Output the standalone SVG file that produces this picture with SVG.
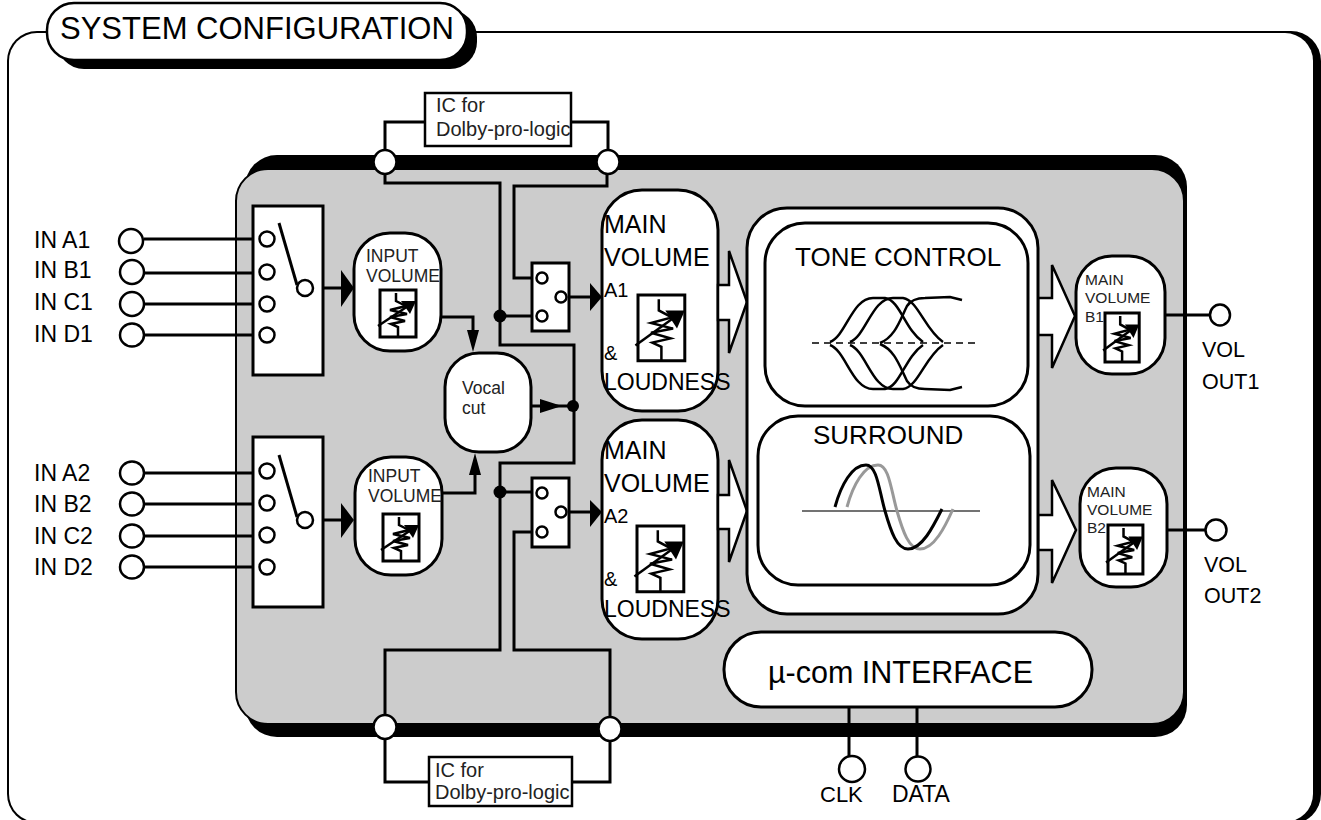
<svg xmlns="http://www.w3.org/2000/svg" width="1321" height="820" viewBox="0 0 1321 820">
<style>
.l{fill:none;stroke:#000;stroke-width:3}
.n{fill:#fff;stroke:#000;stroke-width:3}
.s{fill:#fff;stroke:#000;stroke-width:2.5}
.h{fill:#000;stroke:none}
.d{fill:#000;stroke:none}
text{font-family:"Liberation Sans",Arial,sans-serif;fill:#000}
.t21{font-size:21.5px}
.t23{font-size:23px}
.t26{font-size:26px}
.iv{font-size:17.5px;fill:#222}
.b{font-size:15.5px;fill:#222}
.ic{font-size:20px;fill:#222}
.mv{font-size:25px}
</style>
<defs>
<g id="pot">
<rect x="0" y="0" width="36" height="47" fill="#fff" stroke="#000" stroke-width="3" vector-effect="non-scaling-stroke"/>
<path d="M18,47 V37 L11,34 L25,31 L10,27 L27,24 L10,20 L26,16 L16,11 V3" fill="none" stroke="#000" stroke-width="2.5" vector-effect="non-scaling-stroke"/>
<path d="M-2,36 L31,14" fill="none" stroke="#000" stroke-width="2.5" vector-effect="non-scaling-stroke"/>
<path d="M21,11 L36,11 L30,24 Z" fill="#000"/>
</g>
<g id="curves" fill="none" stroke="#000" stroke-width="2.5">
<path d="M830,342 C846,336 852,298 873,298 H885 C900,300 905,330 923,342"/>
<path d="M850,342 C866,336 872,298 893,298 H903 C918,300 925,330 943,342"/>
<path d="M880,343 C895,337 900,320 907,306 C911,300 916,298 925,298 L950,297 L962,300"/>
</g>
</defs>

<g id="frame">
<rect x="7" y="31" width="1314" height="793" rx="30" fill="#000"/>
<rect x="9" y="33" width="1304" height="789" rx="28" fill="#fff"/>
</g>
<g id="title">
<rect x="57" y="10" width="420" height="59" rx="27" fill="#000"/>
<rect x="47" y="3" width="420" height="57" rx="27" fill="#fff" stroke="#000" stroke-width="2.5"/>
<text x="60" y="39" font-size="31">SYSTEM CONFIGURATION</text>
</g>
<g id="chip">
<rect x="245" y="155" width="942" height="582" rx="32" fill="#000"/>
<rect x="236" y="169" width="948" height="555" rx="32" fill="#ccc" stroke="#000" stroke-width="2"/>
</g>

<g id="connectors">
<path class="l" d="M385,150 V122 H425 M571,122 H608 V150"/>
<path class="l" d="M385,175 V183 H500 V345 H574 V463 H500 V650 H385 V716"/>
<path class="l" d="M607,175 V186 H514 V278 H535"/>
<path class="l" d="M500,316 H535"/>
<path class="l" d="M500,492 H535"/>
<path class="l" d="M535,532 H514 V650 H610 V718"/>
<path class="l" d="M385,738 V782 H429 M572,782 H610 V740"/>
<path class="l" d="M144,239 H253 M144,273 H253 M144,304 H253 M144,335 H253"/>
<path class="l" d="M144,473 H253 M144,504 H253 M144,536 H253 M144,567 H253"/>
<path class="l" d="M313,288 H345 M313,520 H345"/>
<path class="l" d="M441,317 H473 V335"/>
<path class="l" d="M442,493 H475 V470"/>
<path class="l" d="M531,406 H573"/>
<path class="l" d="M569,297 H592 M569,512 H592"/>
<path class="l" d="M1165,315 H1210 M1168,530 H1205"/>
<path class="l" d="M849,707 V757 M917,707 V757"/>
<path class="h" d="M341,270 L354,288 L341,307 Z"/>
<path class="h" d="M341,503 L354,520 L341,538 Z"/>
<path class="h" d="M467,330 H479 L473,352 Z"/>
<path class="h" d="M469,475 H481 L475,453 Z"/>
<path class="h" d="M540,399 L562,406 L540,413 Z"/>
<path class="h" d="M590,283 L602,297 L590,311 Z"/>
<path class="h" d="M590,500 L602,512 L590,527 Z"/>
<circle class="d" cx="500" cy="316" r="6.5"/>
<circle class="d" cx="500" cy="492" r="6.5"/>
<circle class="d" cx="573" cy="406" r="6"/>
</g>

<g id="ic-top"><rect class="s" x="425" y="93" width="146" height="53"/>
<text class="ic" x="436" y="112">IC for</text><text class="ic" x="436" y="136">Dolby-pro-logic</text></g>
<g id="ic-bottom"><rect class="s" x="429" y="757" width="143" height="49"/>
<text class="ic" x="435" y="777">IC for</text><text class="ic" x="435" y="799">Dolby-pro-logic</text></g>
<g id="pins">
<ellipse class="s" cx="385" cy="162" rx="11.5" ry="12"/>
<ellipse class="s" cx="608" cy="162" rx="11.5" ry="12"/>
<ellipse class="s" cx="385" cy="727" rx="11.5" ry="12"/>
<ellipse class="s" cx="610" cy="729" rx="11.5" ry="12"/>
</g>

<g id="inputs-1">
<text class="t23" x="34" y="248">IN A1</text><text class="t23" x="34" y="278">IN B1</text><text class="t23" x="34" y="310">IN C1</text><text class="t23" x="34" y="342">IN D1</text>
<ellipse class="s" cx="131" cy="241" rx="12" ry="12"/><ellipse class="s" cx="132" cy="272" rx="12" ry="12"/><ellipse class="s" cx="132" cy="304" rx="12" ry="12"/><ellipse class="s" cx="132" cy="335" rx="12" ry="11.5"/>
</g>
<g id="inputs-2">
<text class="t23" x="34" y="481">IN A2</text><text class="t23" x="34" y="512">IN B2</text><text class="t23" x="34" y="544">IN C2</text><text class="t23" x="34" y="575">IN D2</text>
<ellipse class="s" cx="132" cy="473" rx="12" ry="11.5"/><ellipse class="s" cx="132" cy="504" rx="12" ry="11.5"/><ellipse class="s" cx="132" cy="536" rx="12" ry="11.5"/><ellipse class="s" cx="132" cy="567" rx="12" ry="11.5"/>
</g>

<g id="selector-1"><rect class="n" x="253" y="206" width="70" height="169"/>
<circle class="s" cx="267" cy="239" r="7.5"/><circle class="s" cx="267" cy="272" r="7.5"/><circle class="s" cx="267" cy="304" r="7.5"/><circle class="s" cx="267" cy="335" r="7.5"/>
<path class="l" d="M279,223 L297,285"/><circle class="s" cx="305" cy="288" r="8"/></g>
<g id="selector-2"><rect class="n" x="253" y="437" width="70" height="170"/>
<circle class="s" cx="267" cy="471" r="7.5"/><circle class="s" cx="267" cy="503" r="7.5"/><circle class="s" cx="267" cy="535" r="7.5"/><circle class="s" cx="267" cy="567" r="7.5"/>
<path class="l" d="M279,455 L297,517"/><circle class="s" cx="305" cy="520" r="8"/></g>

<g id="input-volume-1"><rect class="n" x="354" y="233" width="87" height="118" rx="36"/>
<text class="iv" x="366" y="262">INPUT</text><text class="iv" x="366" y="282">VOLUME</text>
<use href="#pot" x="380" y="290"/></g>
<g id="input-volume-2"><rect class="n" x="355" y="457" width="87" height="118" rx="36"/>
<text class="iv" x="368" y="482">INPUT</text><text class="iv" x="368" y="502">VOLUME</text>
<use href="#pot" x="383" y="514"/></g>

<g id="vocal-cut"><rect class="n" x="445" y="353" width="86" height="99" rx="34"/>
<text class="iv" x="462" y="394">Vocal</text><text class="iv" x="462" y="414">cut</text></g>

<g id="switch-a"><rect class="n" x="532" y="263" width="37" height="68"/>
<circle class="s" cx="542" cy="278" r="5.5"/><circle class="s" cx="542" cy="316" r="5.5"/><circle class="s" cx="561" cy="297" r="5.5"/></g>
<g id="switch-b"><rect class="n" x="532" y="478" width="37" height="69"/>
<circle class="s" cx="542" cy="493" r="5.5"/><circle class="s" cx="542" cy="532" r="5.5"/><circle class="s" cx="561" cy="512" r="5.5"/></g>

<g id="main-volume-a1"><rect class="n" x="602" y="190" width="116" height="221" rx="40"/>
<text class="mv" x="604" y="233">MAIN</text><text class="mv" x="604" y="266">VOLUME</text>
<text x="604" y="297" font-size="20">A1</text>
<use href="#pot" transform="translate(638,295) scale(1.3,1.4)"/>
<text x="604" y="360" font-size="20">&amp;</text><text x="604" y="390" font-size="23">LOUDNESS</text></g>
<g id="main-volume-a2"><rect class="n" x="602" y="420" width="116" height="219" rx="40"/>
<text class="mv" x="604" y="459">MAIN</text><text class="mv" x="604" y="492">VOLUME</text>
<text x="604" y="523" font-size="20">A2</text>
<use href="#pot" transform="translate(637,526) scale(1.3,1.4)"/>
<text x="604" y="586" font-size="20">&amp;</text><text x="604" y="617" font-size="23">LOUDNESS</text></g>

<g id="block-arrows">
<path class="s" d="M718,285 H729 V251 L747,302 L729,353 V320 H718 Z"/>
<path class="s" d="M718,495 H729 V460 L747,511 L729,562 V529 H718 Z"/>
<path class="s" d="M1038,298 H1052 V265 L1075,316 L1052,368 V335 H1038 Z"/>
<path class="s" d="M1038,515 H1052 V480 L1076,530 L1052,583 V550 H1038 Z"/>
</g>

<g id="processor"><rect class="n" x="747" y="208" width="291" height="406" rx="40"/></g>
<g id="tone-control"><rect class="n" x="765" y="223" width="263" height="183" rx="40"/>
<text class="t26" x="795" y="266">TONE CONTROL</text>
<path d="M812,343 H975" fill="none" stroke="#000" stroke-width="1.5" stroke-dasharray="7 5"/>
<use href="#curves"/><use href="#curves" transform="translate(0,687) scale(1,-1)"/></g>
<g id="surround"><rect class="n" x="758" y="416" width="272" height="169" rx="40"/>
<text class="t26" x="813" y="444">SURROUND</text>
<path d="M802,511 H980" fill="none" stroke="#444" stroke-width="1.5"/>
<path d="M847,507 C853,485 864,465 878,465 C889,465 891,490 897,511 C903,532 909,549 920,549 C934,549 945,527 953,509" fill="none" stroke="#999" stroke-width="3"/>
<path d="M835,507 C841,485 852,465 866,465 C877,465 879,490 885,511 C891,532 897,549 908,549 C922,549 933,527 942,509" fill="none" stroke="#000" stroke-width="3"/></g>

<g id="main-volume-b1"><rect class="n" x="1076" y="256" width="89" height="118" rx="36"/>
<text class="b" x="1085" y="285">MAIN</text><text class="b" x="1085" y="303">VOLUME</text><text class="b" x="1085" y="322">B1</text>
<use href="#pot" transform="translate(1105,313) scale(.95,1.04)"/></g>
<g id="main-volume-b2"><rect class="n" x="1080" y="468" width="87" height="119" rx="36"/>
<text class="b" x="1087" y="497">MAIN</text><text class="b" x="1087" y="515">VOLUME</text><text class="b" x="1087" y="533">B2</text>
<use href="#pot" transform="translate(1108,525) scale(.97,1.04)"/></g>

<g id="vol-out-1"><ellipse class="s" cx="1220" cy="315" rx="10" ry="10.5"/><text class="t21" x="1202" y="357">VOL</text><text class="t21" x="1202" y="389">OUT1</text></g>
<g id="vol-out-2"><ellipse class="s" cx="1216" cy="530" rx="10.5" ry="10.5"/><text class="t21" x="1204" y="572">VOL</text><text class="t21" x="1204" y="603">OUT2</text></g>

<g id="interface"><rect class="n" x="724" y="632" width="368" height="75" rx="37"/>
<text x="768" y="683" font-size="30.5">µ-com INTERFACE</text></g>
<g id="clk"><circle class="s" cx="852" cy="769" r="13"/><text x="820" y="802" font-size="22">CLK</text></g>
<g id="data"><circle class="s" cx="918" cy="769" r="12.5"/><text class="t23" x="892" y="802">DATA</text></g>
</svg>
